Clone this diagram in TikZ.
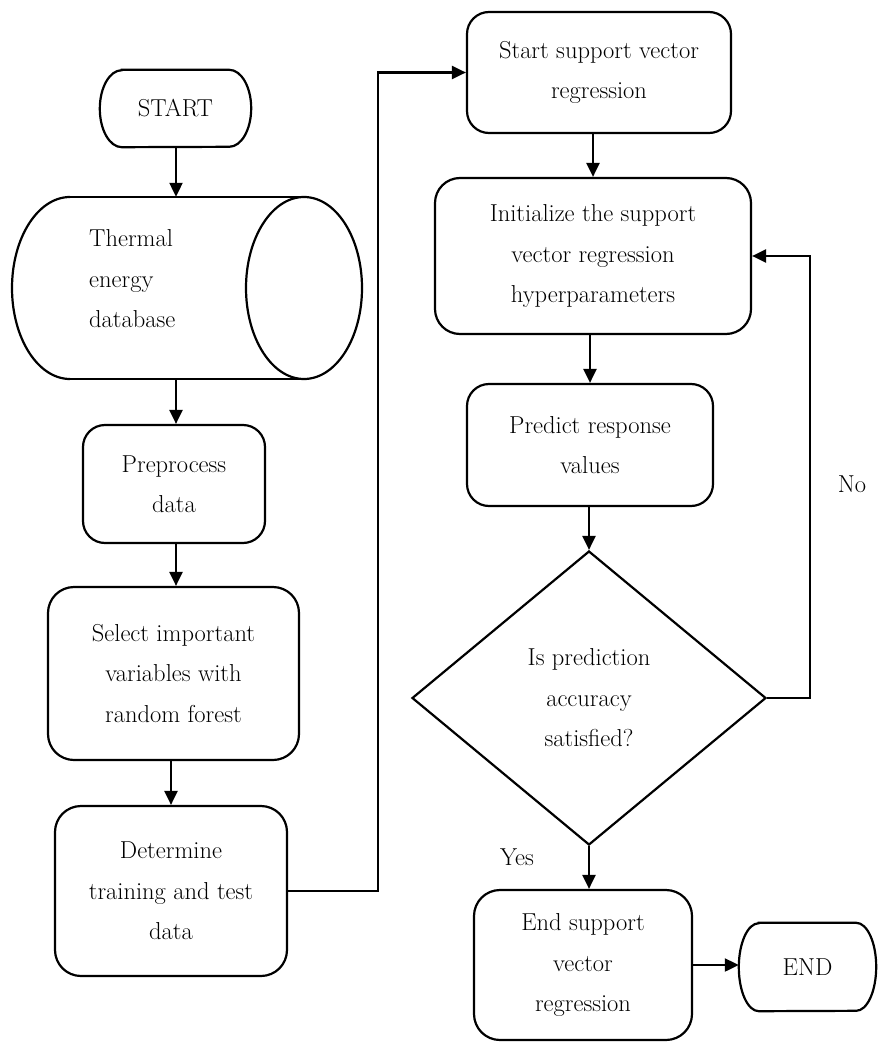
\documentclass[tikz,border=0pt]{standalone}
\usetikzlibrary{arrows.meta,shapes.geometric}
\begin{document}
\begin{tikzpicture}[x=1pt,y=-1pt,
  txt/.style={font=\fontsize{24.5}{40.5}\selectfont},
  stepbox/.style={txt,draw,line width=2.2pt,rounded corners=22pt,align=center,inner sep=0pt},
  terminal/.style={txt,inner sep=0pt},
  conn/.style={line width=2.2pt,-{Triangle[length=14pt,width=13pt]}},
  plain/.style={line width=2.2pt}]
\useasboundingbox[fill=white] (0,0) rectangle (878,1043);

% terminals (outline drawn below with elliptic ends)
\node[terminal,minimum width=151pt,minimum height=77pt] (start) at (175.5,108.5) {START};
\node[terminal,minimum width=137pt,minimum height=88pt] (fin) at (807.5,967) {END};
\draw[plain] ([xshift=22pt]start.north west) -- ([xshift=-22pt]start.north east)
  arc[start angle=90,end angle=-90,x radius=22pt,y radius=38.5pt]
  -- ([xshift=22pt]start.south west)
  arc[start angle=270,end angle=90,x radius=22pt,y radius=38.5pt] -- cycle;
\draw[plain] ([xshift=20pt]fin.north west) -- ([xshift=-20pt]fin.north east)
  arc[start angle=90,end angle=-90,x radius=20pt,y radius=44pt]
  -- ([xshift=20pt]fin.south west)
  arc[start angle=270,end angle=90,x radius=20pt,y radius=44pt] -- cycle;

% horizontal database cylinder
\node[minimum width=350pt,minimum height=182pt,inner sep=0pt] (db) at (187,288) {};
\draw[plain] (70,197) -- (304,197);
\draw[plain] (70,379) -- (304,379);
\draw[plain] (70,197) arc[start angle=90,end angle=270,x radius=58pt,y radius=91pt];
\draw[plain] (304,288) ellipse[x radius=58pt,y radius=91pt];
\node[txt,align=left,anchor=west,inner sep=0pt] (dbtext) at (89,279) {Thermal\\energy\\database};

% left column
\node[stepbox,minimum width=182pt,minimum height=118pt] (pre) at (174,484) {Preprocess\\data};
\node[stepbox,minimum width=251pt,minimum height=173pt,rounded corners=26pt] (sel) at (173.5,673.5) {Select important\\variables with\\random forest};
\node[stepbox,minimum width=232pt,minimum height=170pt,rounded corners=26pt] (det) at (171,891) {Determine\\training and test\\data};

% right column
\node[stepbox,minimum width=264pt,minimum height=121pt] (svr) at (599,72.5) {Start support vector\\regression};
\node[stepbox,minimum width=316pt,minimum height=156pt,rounded corners=25pt] (init) at (593,256) {Initialize the support\\vector regression\\hyperparameters};
\node[stepbox,minimum width=246pt,minimum height=122pt] (pred) at (590,445) {Predict response\\values};
\node[txt,draw,line width=2.2pt,diamond,aspect=1.2,align=center,inner sep=0pt,
      minimum width=354pt,minimum height=294pt] (dec) at (589,698) {Is prediction\\accuracy\\satisfied?};
\node[stepbox,minimum width=218pt,minimum height=150pt,rounded corners=26pt] (endb) at (583,965) {End support\\vector\\regression};

\node[txt] (no) at (852,484) {No};
\node[txt] (yes) at (517,857) {Yes};

% connectors
\draw[conn] (start.south -| db.north) ++(-11,0) coordinate (s1) -- (s1 |- db.north);
\draw[conn] (s1 |- db.south) -- (s1 |- pre.north);
\draw[conn] (s1 |- pre.south) -- (s1 |- sel.north);
\draw[conn] (sel.south -| det.north) -- (det.north);
\draw[conn] (det.east) -- ++(90,0) |- (svr.west);
\draw[conn] (svr.south -| init.north) -- (init.north);
\draw[conn] (init.south -| pred.north) -- (pred.north);
\draw[conn] (pred.south -| dec.north) -- (dec.north);
\draw[conn] (dec.east) -- ++(43,0) |- (init.east);
\draw[conn] (dec.south) -- (dec.south |- endb.north);
\draw[conn] (endb.east) -- (endb.east -| fin.west);
\end{tikzpicture}
\end{document}
